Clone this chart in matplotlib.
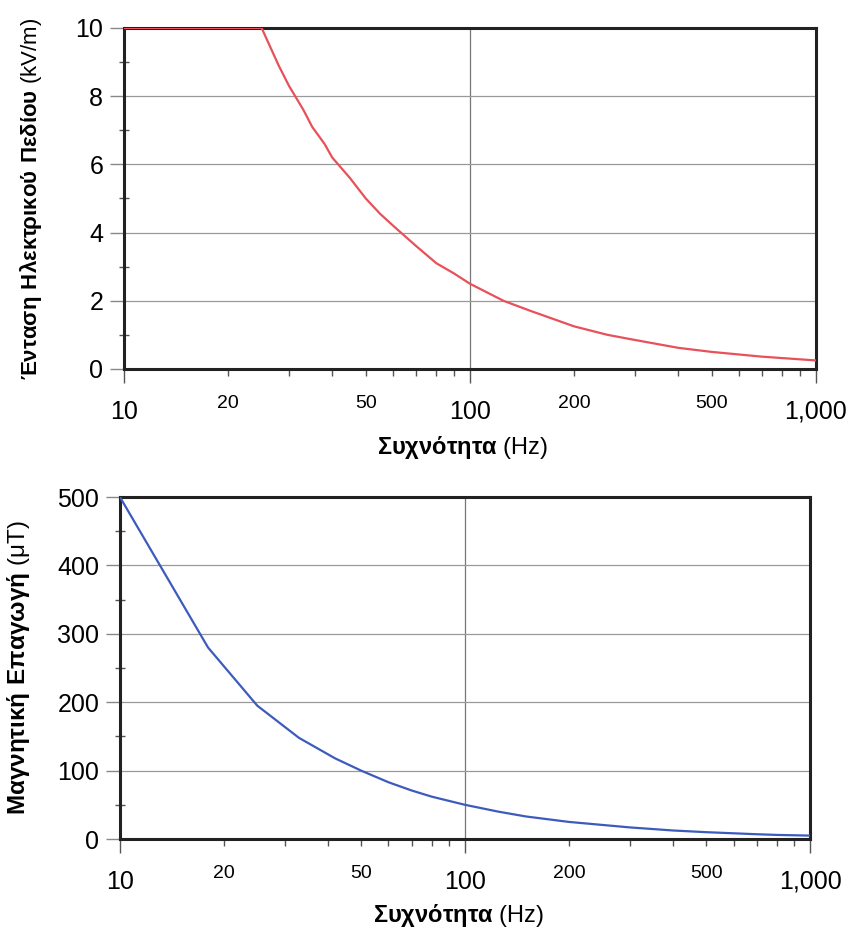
import numpy as np
import matplotlib.pyplot as plt
from matplotlib.ticker import FixedLocator, FuncFormatter

plt.rcParams['font.family'] = ['Liberation Sans', 'DejaVu Sans']
plt.rcParams['mathtext.fontset'] = 'custom'
plt.rcParams['mathtext.rm'] = 'Liberation Sans'
plt.rcParams['mathtext.bf'] = 'Liberation Sans:bold'

# ηλεκτρικό πεδίο (kV/m)
freq_e = [10, 25, 28, 30, 33, 35, 38, 40, 45, 50, 55, 60, 70, 80, 90, 100, 125, 150, 200, 250, 300, 400, 500, 700, 1000]
field_e = [10, 10, 8.9, 8.3, 7.6, 7.1, 6.6, 6.2, 5.6, 5.0, 4.55, 4.2, 3.6, 3.1, 2.8, 2.5, 2.0, 1.7, 1.25, 1.0, 0.85, 0.62, 0.5, 0.36, 0.25]

# μαγνητική επαγωγή (μT)
freq_b = [10, 18, 25, 33, 42, 50, 60, 70, 80, 100, 125, 150, 200, 300, 400, 500, 700, 800, 1000]
field_b = [500, 280, 195, 148, 118, 100, 83, 71, 62, 50, 40, 33, 25, 17, 12.5, 10, 7, 6, 5]

major_x = [10, 100, 1000]
major_x_labels = ['10', '100', '1,000']
minor_x = [20, 30, 40, 50, 60, 70, 80, 90, 200, 300, 400, 500, 600, 700, 800, 900]
minor_x_labeled = [20, 50, 200, 500]

fig = plt.figure(figsize=(8.52, 9.31), dpi=100)
ax1 = fig.add_axes([0.1455, 0.6037, 0.812, 0.3663])
ax2 = fig.add_axes([0.1408, 0.0988, 0.810, 0.3673])


def style(ax, yticks, yminor, ylabel, ylab_size, lab_x, xlab_y):
    ax.set_xscale('log')
    ax.set_xlim(10, 1000)
    ax.set_ylim(yticks[0], yticks[-1])
    ax.xaxis.set_major_locator(FixedLocator(major_x))
    ax.xaxis.set_major_formatter(FuncFormatter(lambda v, p: major_x_labels[major_x.index(round(v))] if round(v) in major_x else ''))
    ax.xaxis.set_minor_locator(FixedLocator(minor_x))
    ax.xaxis.set_minor_formatter(FuncFormatter(lambda v, p: str(int(round(v))) if round(v) in minor_x_labeled else ''))
    ax.set_yticks(yticks)
    ax.yaxis.set_minor_locator(FixedLocator(yminor))
    ax.tick_params(axis='x', which='major', direction='out', length=10, width=1, color='#555555', labelsize=18, pad=12)
    ax.tick_params(axis='x', which='minor', direction='out', length=5, width=1, color='#555555', labelsize=14, pad=14)
    ax.tick_params(axis='y', which='major', direction='out', length=10, width=1, color='#888888', labelsize=18, pad=5)
    ax.tick_params(axis='y', which='minor', direction='inout', length=7, width=1, color='#555555')
    ax.grid(axis='y', which='major', color='#999999', linewidth=0.9)
    ax.axvline(100, color='#777777', linewidth=0.9, zorder=1)
    for s in ax.spines.values():
        s.set_linewidth(2.2)
        s.set_color('#222222')
    ax.set_xlabel(r'$\mathbf{Συχνότητα}$ (Hz)', fontsize=17)
    ax.xaxis.set_label_coords(0.49, xlab_y)
    ax.set_ylabel(ylabel, fontsize=ylab_size)
    ax.yaxis.set_label_coords(lab_x, 0.5)


ax1.plot(freq_e, field_e, color='#e8505a', linewidth=1.6, zorder=3)
style(ax1, [0, 2, 4, 6, 8, 10], [1, 3, 5, 7, 9],
      r'$\mathbf{Ένταση\ Ηλεκτρικού\ Πεδίου}$ (kV/m)', 16, -0.115, -0.19)

ax2.plot(freq_b, field_b, color='#3d5bbd', linewidth=1.6, zorder=3)
style(ax2, [0, 100, 200, 300, 400, 500], [50, 150, 250, 350, 450],
      r'$\mathbf{Μαγνητική\ Επαγωγή}$ (μT)', 17.5, -0.128, -0.185)

fig.savefig('out.png', dpi=100)
